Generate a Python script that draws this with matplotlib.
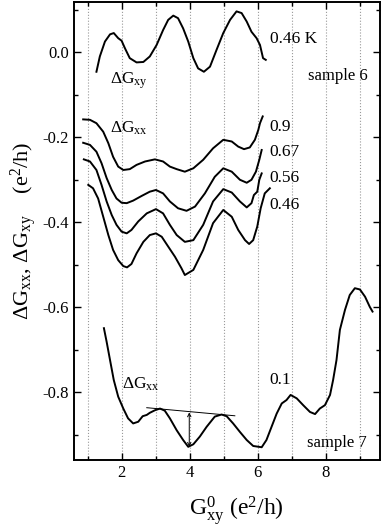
import matplotlib.pyplot as plt
from matplotlib.ticker import MultipleLocator

plt.rcParams['font.family'] = 'Liberation Serif'
plt.rcParams['mathtext.fontset'] = 'custom'
plt.rcParams['mathtext.rm'] = 'Liberation Serif'
plt.rcParams['mathtext.it'] = 'Liberation Serif'
plt.rcParams['axes.unicode_minus'] = False

# sample 6, dGxy at 0.46 K
gxy_x = [1.26, 1.36, 1.51, 1.66, 1.77, 1.90, 2.00, 2.10, 2.24, 2.44, 2.64, 2.83, 3.03, 3.22,
         3.37, 3.52, 3.66, 3.81, 3.96, 4.11, 4.25, 4.42, 4.60, 4.79, 4.99, 5.19, 5.38, 5.53,
         5.68, 5.82, 5.97, 6.07, 6.16, 6.24]
gxy_y = [-0.046, -0.010, 0.025, 0.042, 0.045, 0.033, 0.027, 0.009, -0.014, -0.024, -0.023,
         -0.010, 0.017, 0.052, 0.076, 0.086, 0.080, 0.056, 0.025, -0.014, -0.038, -0.046,
         -0.034, 0.005, 0.045, 0.076, 0.096, 0.092, 0.072, 0.048, 0.033, 0.017, -0.014, -0.018]

# sample 6, dGxx at several temperatures
gxx_090_x = [0.87, 1.07, 1.26, 1.46, 1.61, 1.75, 1.90, 2.05, 2.24, 2.44, 2.69, 2.98, 3.22,
             3.42, 3.62, 3.86, 4.11, 4.40, 4.69, 4.99, 5.24, 5.43, 5.60, 5.77, 5.92, 6.02,
             6.07, 6.15]
gxx_090_y = [-0.158, -0.159, -0.167, -0.187, -0.214, -0.246, -0.269, -0.277, -0.275, -0.265,
             -0.257, -0.252, -0.257, -0.269, -0.275, -0.281, -0.273, -0.253, -0.226, -0.206,
             -0.210, -0.222, -0.228, -0.224, -0.206, -0.183, -0.167, -0.151]

gxx_067_x = [0.87, 1.07, 1.26, 1.41, 1.56, 1.71, 1.85, 2.00, 2.15, 2.34, 2.59, 2.83, 3.01,
             3.22, 3.42, 3.66, 3.91, 4.16, 4.45, 4.74, 4.99, 5.24, 5.48, 5.68, 5.82, 5.95,
             6.05, 6.12]
gxx_067_y = [-0.213, -0.218, -0.234, -0.261, -0.296, -0.324, -0.344, -0.354, -0.355, -0.349,
             -0.338, -0.328, -0.324, -0.332, -0.351, -0.367, -0.373, -0.363, -0.332, -0.293,
             -0.273, -0.281, -0.300, -0.307, -0.300, -0.281, -0.253, -0.230]

gxx_056_x = [0.89, 1.07, 1.26, 1.41, 1.56, 1.71, 1.85, 2.00, 2.15, 2.29, 2.49, 2.74, 3.01,
             3.22, 3.42, 3.62, 3.86, 4.11, 4.40, 4.69, 4.99, 5.24, 5.48, 5.68, 5.82, 5.89,
             5.99, 6.05, 6.12]
gxx_056_y = [-0.252, -0.257, -0.277, -0.312, -0.351, -0.383, -0.406, -0.422, -0.426, -0.418,
             -0.398, -0.379, -0.369, -0.379, -0.406, -0.430, -0.446, -0.442, -0.406, -0.351,
             -0.322, -0.330, -0.351, -0.365, -0.355, -0.336, -0.328, -0.300, -0.285]

gxx_046_x = [1.02, 1.16, 1.31, 1.46, 1.61, 1.75, 1.90, 2.05, 2.16, 2.29, 2.44, 2.64, 2.83,
             3.01, 3.18, 3.37, 3.57, 3.76, 3.86, 4.11, 4.40, 4.69, 4.99, 5.24, 5.43, 5.63,
             5.75, 5.87, 5.99, 6.09, 6.21, 6.36]
gxx_046_y = [-0.312, -0.320, -0.344, -0.387, -0.430, -0.465, -0.489, -0.503, -0.506, -0.498,
             -0.473, -0.446, -0.430, -0.426, -0.434, -0.457, -0.481, -0.508, -0.524, -0.512,
             -0.465, -0.402, -0.371, -0.387, -0.418, -0.442, -0.451, -0.442, -0.410, -0.367,
             -0.332, -0.320]

# sample 7, dGxx at 0.1 K
s7_x = [1.48, 1.56, 1.66, 1.77, 1.90, 2.05, 2.19, 2.34, 2.49, 2.62, 2.74, 2.83, 2.98, 3.13,
        3.27, 3.42, 3.62, 3.81, 3.96, 4.11, 4.30, 4.50, 4.74, 4.94, 5.09, 5.28, 5.48, 5.68,
        5.87, 6.12, 6.26, 6.41, 6.56, 6.71, 6.85, 6.97, 7.15, 7.34, 7.54, 7.69, 7.83, 7.98,
        8.13, 8.22, 8.32, 8.42, 8.57, 8.71, 8.86, 9.01, 9.16, 9.30, 9.38]
s7_y = [-0.649, -0.681, -0.724, -0.771, -0.810, -0.838, -0.861, -0.873, -0.869, -0.856,
        -0.853, -0.848, -0.842, -0.838, -0.843, -0.861, -0.889, -0.912, -0.928, -0.922,
        -0.904, -0.881, -0.857, -0.852, -0.856, -0.873, -0.893, -0.912, -0.926, -0.929,
        -0.912, -0.881, -0.850, -0.826, -0.818, -0.806, -0.814, -0.830, -0.846, -0.851,
        -0.838, -0.830, -0.806, -0.771, -0.724, -0.653, -0.606, -0.571, -0.555, -0.558,
        -0.575, -0.599, -0.610]

# tangent line and amplitude arrow for sample 7
tan_x = [2.74, 5.33]
tan_y = [-0.836, -0.855]
arrow_x = 3.99
arrow_y = [-0.847, -0.928]

fig = plt.figure(figsize=(3.82, 5.31), dpi=100)
ax = fig.add_axes([0.1937, 0.1337, 0.8011, 0.8625])

lw = 1.4
ax.plot(gxy_x, gxy_y, color='black', lw=lw)
for xs, ys in [(gxx_090_x, gxx_090_y), (gxx_067_x, gxx_067_y),
               (gxx_056_x, gxx_056_y), (gxx_046_x, gxx_046_y)]:
    ax.plot(xs, ys, color='black', lw=lw)
ax.plot(s7_x, s7_y, color='black', lw=lw)

ax.plot(tan_x, tan_y, color='black', lw=0.7)
ax.annotate('', xy=(arrow_x, arrow_y[1]), xytext=(arrow_x, arrow_y[0]),
            arrowprops=dict(arrowstyle='<->', color='black', lw=0.7,
                            mutation_scale=6, shrinkA=0, shrinkB=0))

# text labels
fs = 12.5
ax.text(6.36, 0.031, '0.46 K', fontsize=fs, va='center')
ax.text(7.49, -0.057, 'sample 6', fontsize=12, va='center')
for lab, yy in [('0.9', -0.175), ('0.67', -0.234), ('0.56', -0.296), ('0.46', -0.359)]:
    ax.text(6.36, yy, lab, fontsize=fs, va='center')
ax.text(1.66, -0.068, r'$\Delta$G$_{\rm xy}$', fontsize=fs, va='center')
ax.text(1.66, -0.178, r'$\Delta$G$_{\rm xx}$', fontsize=fs, va='center')
ax.text(2.0, -0.782, r'$\Delta$G$_{\rm xx}$', fontsize=fs, va='center')
ax.text(6.36, -0.771, '0.1', fontsize=fs, va='center')
ax.text(7.44, -0.92, 'sample 7', fontsize=12, va='center')

ax.set_xlim(0.6, 9.6)
ax.set_ylim(-0.959, 0.118)
ax.xaxis.set_major_locator(MultipleLocator(2))
ax.xaxis.set_minor_locator(MultipleLocator(1))
ax.yaxis.set_major_locator(MultipleLocator(0.2))
ax.yaxis.set_minor_locator(MultipleLocator(0.1))
ax.yaxis.set_major_formatter(plt.FormatStrFormatter('%.1f'))
ax.tick_params(which='both', direction='in', top=True, right=True, labelsize=12, width=1)
ax.tick_params(which='major', length=5)
ax.tick_params(which='minor', length=3)
ax.grid(True, which='both', axis='x', color='#999999', linestyle=':', lw=0.8)
for s in ax.spines.values():
    s.set_linewidth(1.4)

ax.set_xlabel(r'G$^{\rm 0}_{\rm xy}$ (e$^{\rm 2}$/h)', fontsize=17)
ax.xaxis.set_label_coords(0.53, -0.075)
ax.set_ylabel(r'$\Delta$G$_{\rm xx}$, $\Delta$G$_{\rm xy}$    (e$^{\rm 2}$/h)', fontsize=16)
ax.yaxis.set_label_coords(-0.115, 0.5)

fig.savefig('out.png', dpi=100)
